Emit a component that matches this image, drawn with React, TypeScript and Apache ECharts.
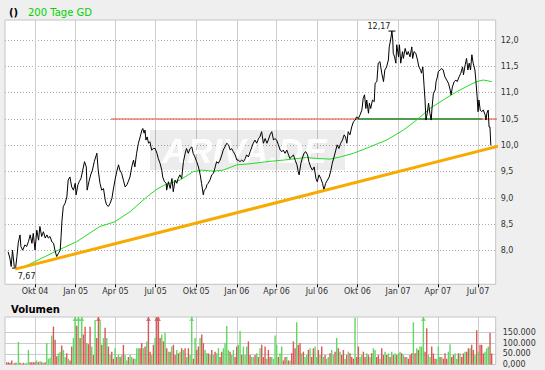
import React, { useEffect, useRef } from "react";
import * as echarts from "echarts";

// x values are days since 2004-01-01
const quarterDays = [274, 366, 456, 547, 639, 731, 821, 912, 1004, 1096, 1186, 1277];
const quarterLabels = ["Okt 04", "Jan 05", "Apr 05", "Jul 05", "Okt 05", "Jan 06", "Apr 06", "Jul 06", "Okt 06", "Jan 07", "Apr 07", "Jul 07"];
const priceTicks = [8, 8.5, 9, 9.5, 10, 10.5, 11, 11.5, 12];
const priceTickLabels = ["8,0", "8,5", "9,0", "9,5", "10,0", "10,5", "11,0", "11,5", "12,0"];
const volumeTicks = [0, 50000, 100000, 150000];
const volumeTickLabels = ["0,000", "50.000", "100.000", "150.000"];

const price: [number, number][] = [
  [213,7.98],[217,7.86],[220,7.70],[223,8.01],[227,7.70],[230,7.67],[233,7.89],[236,8.15],[240,8.30],[242,8.08],[246,8.01],[251,8.11],[255,8.08],[259,8.17],[263,8.30],[267,8.14],[270,8.33],[274,8.01],[278,8.39],[282,8.20],[285,8.46],[289,8.27],[293,8.36],[297,8.24],[301,8.30],[304,8.24],[308,8.27],[312,8.17],[316,8.14],[319,8.01],[323,7.89],[327,7.95],[331,8.01],[333,8.27],[335,8.58],[338,8.84],[342,8.90],[346,9.02],[349,9.34],[353,9.40],[357,9.21],[361,9.15],[365,9.28],[367,9.06],[371,9.25],[374,9.31],[378,9.37],[382,9.53],[386,9.69],[390,9.59],[392,9.15],[396,9.31],[400,9.44],[404,9.53],[408,9.69],[414,9.85],[417,9.53],[421,9.28],[425,9.15],[429,9.18],[433,8.96],[436,8.87],[440,8.84],[444,8.90],[448,8.99],[451,9.15],[455,9.34],[459,9.50],[463,9.63],[466,9.53],[470,9.47],[474,9.34],[478,9.21],[482,9.25],[485,9.31],[489,9.40],[493,9.59],[497,9.72],[500,9.59],[504,9.85],[508,10.04],[512,10.16],[516,10.29],[518,10.32],[521,10.23],[523,10.29],[525,10.10],[528,10.16],[531,10.04],[534,10.07],[538,9.91],[542,9.94],[546,9.94],[550,9.85],[553,9.75],[557,9.66],[561,9.53],[563,9.40],[567,9.31],[571,9.28],[572,9.15],[576,9.31],[580,9.18],[584,9.37],[587,9.12],[591,9.34],[595,9.28],[598,9.37],[602,9.44],[606,9.37],[610,9.69],[614,9.85],[617,9.94],[621,9.85],[625,9.94],[629,9.97],[632,9.85],[636,9.78],[640,9.69],[644,9.59],[648,9.44],[651,9.28],[655,9.06],[657,9.15],[661,9.18],[663,9.25],[666,9.28],[670,9.34],[674,9.44],[678,9.47],[682,9.59],[685,9.69],[689,9.66],[693,9.72],[697,9.82],[700,9.91],[704,9.97],[708,10.04],[712,10.01],[716,9.91],[719,9.94],[723,9.88],[727,9.82],[731,9.72],[734,9.72],[738,9.69],[742,9.72],[746,9.69],[750,9.75],[753,9.82],[757,9.78],[761,9.88],[765,9.97],[768,10.04],[772,10.10],[776,10.04],[780,10.13],[783,10.16],[787,10.26],[791,10.04],[795,10.13],[799,10.04],[802,10.10],[806,10.20],[810,10.26],[814,10.10],[817,10.13],[821,10.10],[825,10.01],[829,9.91],[833,9.88],[836,9.91],[840,9.85],[844,9.91],[848,9.82],[851,9.75],[855,9.78],[859,9.82],[863,9.72],[867,9.63],[870,9.50],[872,9.44],[876,9.66],[879,9.75],[883,9.85],[887,9.88],[891,9.82],[894,9.69],[898,9.59],[902,9.53],[906,9.59],[910,9.37],[913,9.31],[917,9.44],[921,9.37],[925,9.28],[928,9.15],[932,9.28],[936,9.34],[940,9.40],[944,9.53],[947,9.66],[951,9.78],[955,9.91],[958,10.01],[962,9.94],[966,10.04],[970,10.10],[974,10.20],[977,10.16],[980,10.04],[983,10.26],[987,10.20],[991,10.35],[995,10.45],[999,10.48],[1002,10.54],[1006,10.51],[1010,10.58],[1014,10.67],[1017,10.89],[1020,10.96],[1023,10.70],[1025,10.86],[1029,10.61],[1031,10.80],[1034,10.70],[1038,10.86],[1042,10.83],[1044,11.18],[1048,11.21],[1051,11.56],[1055,11.59],[1059,11.37],[1063,11.21],[1066,11.43],[1070,11.49],[1074,11.62],[1076,11.87],[1079,12.00],[1082,12.17],[1084,12.00],[1085,11.75],[1088,11.68],[1091,11.56],[1093,11.91],[1097,11.68],[1099,11.91],[1102,11.56],[1106,11.78],[1108,11.65],[1112,11.84],[1116,11.72],[1119,11.78],[1123,11.68],[1127,11.87],[1129,11.65],[1132,11.78],[1136,11.75],[1140,11.62],[1143,11.49],[1147,11.43],[1149,11.37],[1152,11.49],[1155,11.11],[1157,10.86],[1159,10.48],[1162,10.61],[1165,10.80],[1168,10.61],[1171,10.48],[1173,10.73],[1176,10.99],[1180,11.05],[1182,11.21],[1185,11.30],[1187,11.40],[1191,11.43],[1195,11.46],[1198,11.43],[1202,11.30],[1206,11.24],[1210,11.18],[1214,11.05],[1216,10.96],[1219,11.11],[1223,11.21],[1227,11.24],[1230,11.21],[1234,11.30],[1238,11.37],[1242,11.49],[1244,11.34],[1248,11.53],[1251,11.65],[1254,11.43],[1257,11.56],[1260,11.43],[1263,11.72],[1266,11.56],[1270,11.43],[1272,11.24],[1275,10.92],[1277,10.64],[1279,10.86],[1282,10.67],[1285,10.64],[1289,10.67],[1293,10.58],[1295,10.48],[1297,10.61],[1300,10.67],[1302,10.35],[1304,10.35],[1306,10.00]
];

const ma200: [number, number][] = [
  [251,7.70],[319,7.98],[368,8.17],[421,8.46],[455,8.55],[489,8.74],[527,9.02],[550,9.17],[568,9.25],[602,9.34],[632,9.50],[651,9.53],[678,9.51],[700,9.53],[731,9.63],[761,9.65],[799,9.69],[836,9.72],[889,9.77],[912,9.75],[942,9.74],[965,9.78],[995,9.85],[1032,9.97],[1070,10.10],[1108,10.29],[1138,10.48],[1168,10.70],[1198,10.86],[1229,11.02],[1259,11.15],[1274,11.21],[1289,11.24],[1308,11.21]
];

const trendLine: [number, number][] = [[229, 7.65], [1429, 10.21]];
const resistanceLine: [number, number][] = [[446, 10.5], [1417, 10.5]];
const supportLine: [number, number][] = [[1005, 10.5], [1286, 10.5]];
const highPoint: [number, number] = [1082, 12.17];
const lowPoint: [number, number] = [230, 7.67];
const highLabel = "12,17";
const lowLabel = "7,67";

// volume in thousands; negative = falling day (red)
const volumeStartDay = 210;
const volumeStepDays = 3.773;
const volumeK = [
  -10,-10,-8,-19,5,-8,8,105,-8,5,-8,6,8,68,-11,-11,-11,-11,19,-11,16,-11,8,-11,100,27,31,135,-177,-116,-39,52,60,-89,68,35,-52,27,-19,-84,124,260,-181,250,-124,255,-140,-176,100,-95,-177,84,-44,208,-124,-260,205,-92,124,-172,124,-84,44,-60,-27,76,-35,47,-35,44,-92,44,19,-35,44,35,-27,27,76,76,-76,-100,76,-84,108,-255,-60,44,-92,124,-260,-250,-124,140,-108,148,-76,60,-60,84,-92,-44,68,-52,60,-76,68,-76,35,-76,44,250,-27,124,-68,-84,124,-140,-100,68,52,-52,44,-68,44,-60,52,76,-35,-60,76,100,180,68,-60,44,68,-35,-84,92,156,-44,84,44,84,-108,-44,35,35,-44,52,-35,76,-92,-35,-84,27,-68,-35,35,27,
  135,92,-35,52,84,-19,-35,35,-19,19,-52,-108,-76,197,-92,-100,52,-60,35,44,-68,76,-35,-76,84,35,-68,44,-84,35,-44,27,35,-52,68,44,-60,124,-76,60,-44,-68,27,-44,60,-52,-35,-27,218,-35,-84,35,44,-60,-35,52,-44,35,-52,76,68,-35,-44,27,-76,-44,60,-44,52,-35,60,-44,52,-44,52,60,-52,44,-35,35,-27,-44,-52,197,-52,76,-68,84,84,250,-60,-169,44,35,-84,-52,-27,27,84,-35,35,-27,-52,-27,60,95,-35,-44,52,27,-52,52,-35,-52,60,-60,-76,76,-92,-68,44,-160,60,-92,-92,-52,60,76,84,-148,-52
];

const VOL_MAX = 222000;
const FONT = "DejaVu Sans";
const GREEN_VOL = "#62d662";
const RED_VOL = "#da5757";

export default function App() {
  const ref = useRef<HTMLDivElement>(null);
  useEffect(() => {
    const chart = echarts.init(ref.current!, null, { renderer: "svg" });
    const volBars = volumeK.map((v, i) => ({
      value: [volumeStartDay + i * volumeStepDays, Math.abs(v) * 1000],
      itemStyle: { color: v < 0 ? RED_VOL : GREEN_VOL },
    }));
    const volArrows = volumeK
      .map((v, i) => ({ v, i }))
      .filter((d) => Math.abs(d.v) * 1000 > VOL_MAX)
      .map((d) => ({
        value: [volumeStartDay + d.i * volumeStepDays, VOL_MAX],
        itemStyle: { color: d.v < 0 ? RED_VOL : GREEN_VOL },
      }));
    const xLabel = (v: number) => {
      const i = quarterDays.indexOf(Math.round(v));
      return i >= 0 ? quarterLabels[i] : "";
    };
    const pLabel = (v: number) => {
      const i = priceTicks.findIndex((t) => Math.abs(t - v) < 1e-6);
      return i >= 0 ? priceTickLabels[i] : "";
    };
    const vLabel = (v: number) => {
      const i = volumeTicks.findIndex((t) => Math.abs(t - v) < 1e-6);
      return i >= 0 ? volumeTickLabels[i] : "";
    };
    const option: any = {
      animation: false,
      backgroundColor: "#efefef",
      textStyle: { fontFamily: FONT },
      grid: [
        { left: 5, top: 20, right: 49.3, bottom: 85.7, show: true, backgroundColor: "#fff", borderColor: "#c4c4c4", borderWidth: 1 },
        { left: 5, top: 317, right: 49.3, bottom: 5.5, show: true, backgroundColor: "#fff", borderColor: "#c4c4c4", borderWidth: 1 },
      ],
      xAxis: [
        {
          type: "value", gridIndex: 0, min: 206, max: 1317,
          axisLine: { show: false },
          axisTick: { show: true, customValues: quarterDays, length: 3, lineStyle: { color: "#000" } },
          axisLabel: { customValues: quarterDays, formatter: xLabel, margin: 3, fontSize: 8, color: "#333", fontFamily: FONT },
          splitLine: { show: true, lineStyle: { color: "#cccccc", width: 1 } },
        },
        {
          type: "value", gridIndex: 1, min: 206, max: 1317,
          axisLine: { show: false },
          axisTick: { show: false, customValues: quarterDays },
          axisLabel: { show: false, customValues: quarterDays },
          splitLine: { show: true, lineStyle: { color: "#cccccc", width: 1 } },
        },
      ],
      yAxis: [
        {
          type: "value", gridIndex: 0, position: "right", min: 7.362, max: 12.38,
          axisLine: { show: false },
          axisTick: { show: false, customValues: priceTicks },
          axisLabel: { customValues: priceTicks, formatter: pLabel, margin: 5, fontSize: 8, color: "#333", fontFamily: FONT },
          splitLine: { show: true, lineStyle: { color: "#aaaaaa", type: [1, 2], width: 1 } },
        },
        {
          type: "value", gridIndex: 1, position: "right", min: 0, max: VOL_MAX,
          axisLine: { show: false },
          axisTick: { show: false, customValues: volumeTicks },
          axisLabel: { customValues: volumeTicks, formatter: vLabel, margin: 7, fontSize: 8, color: "#333", fontFamily: FONT },
          splitLine: { show: true, lineStyle: { color: "#cccccc", width: 1 } },
        },
      ],
      graphic: [
        { type: "rect", z: 1, shape: { x: 150, y: 130, width: 195, height: 40 }, style: { fill: "rgba(0,0,0,0.075)" }, silent: true },
        { type: "text", z: 1, x: 162, y: 150, style: { text: "ARIVA.DE", font: "italic bold 35px 'Liberation Sans'", fill: "rgba(255,255,255,0.95)", textVerticalAlign: "middle" }, silent: true },
        { type: "text", x: 9, y: 12, style: { text: "()", font: "bold 10px 'DejaVu Sans'", fill: "#000", textVerticalAlign: "middle" } },
        { type: "text", x: 28, y: 12, style: { text: "200 Tage GD", font: "10px 'DejaVu Sans'", fill: "#00d400", textVerticalAlign: "middle" } },
        { type: "text", x: 11, y: 309, style: { text: "Volumen", font: "bold 10px 'DejaVu Sans'", fill: "#000", textVerticalAlign: "middle" } },
      ],
      series: [
        {
          type: "line", xAxisIndex: 0, yAxisIndex: 0, data: resistanceLine, showSymbol: false, clip: false, z: 3,
          lineStyle: { color: "#ee4433", width: 1.2 },
        },
        {
          type: "line", xAxisIndex: 0, yAxisIndex: 0, data: supportLine, showSymbol: false, clip: false, z: 3,
          lineStyle: { color: "#219a3c", width: 1.3 },
        },
        {
          type: "line", xAxisIndex: 0, yAxisIndex: 0, data: ma200, showSymbol: false, z: 4,
          lineStyle: { color: "#22dd22", width: 1 },
        },
        {
          type: "line", xAxisIndex: 0, yAxisIndex: 0, data: price, showSymbol: false, z: 5,
          lineStyle: { color: "#000", width: 1 },
          markPoint: {
            symbol: "rect", symbolSize: [7, 1], itemStyle: { color: "#000" },
            data: [
              { coord: highPoint, value: highLabel, label: { show: true, position: "inside", offset: [-13, -5], formatter: highLabel, color: "#222", fontSize: 8, fontFamily: FONT } },
              { coord: lowPoint, value: lowLabel, label: { show: true, position: "inside", offset: [11, 8], formatter: lowLabel, color: "#222", fontSize: 8, fontFamily: FONT } },
            ],
          },
        },
        {
          type: "line", xAxisIndex: 0, yAxisIndex: 0, data: trendLine, showSymbol: false, clip: false, z: 6,
          lineStyle: { color: "#f7ab00", width: 3 },
        },
        {
          type: "bar", xAxisIndex: 1, yAxisIndex: 1, data: volBars, barWidth: 1.4, z: 3,
        },
        {
          type: "scatter", xAxisIndex: 1, yAxisIndex: 1, data: volArrows, symbol: "triangle", symbolSize: [5, 4], symbolOffset: [0, 2], z: 4,
        },
      ],
    };
    chart.setOption(option);
    return () => chart.dispose();
  }, []);
  return <div ref={ref} style={{ position: "fixed", left: 0, top: 0, width: 545, height: 370 }} />;
}
